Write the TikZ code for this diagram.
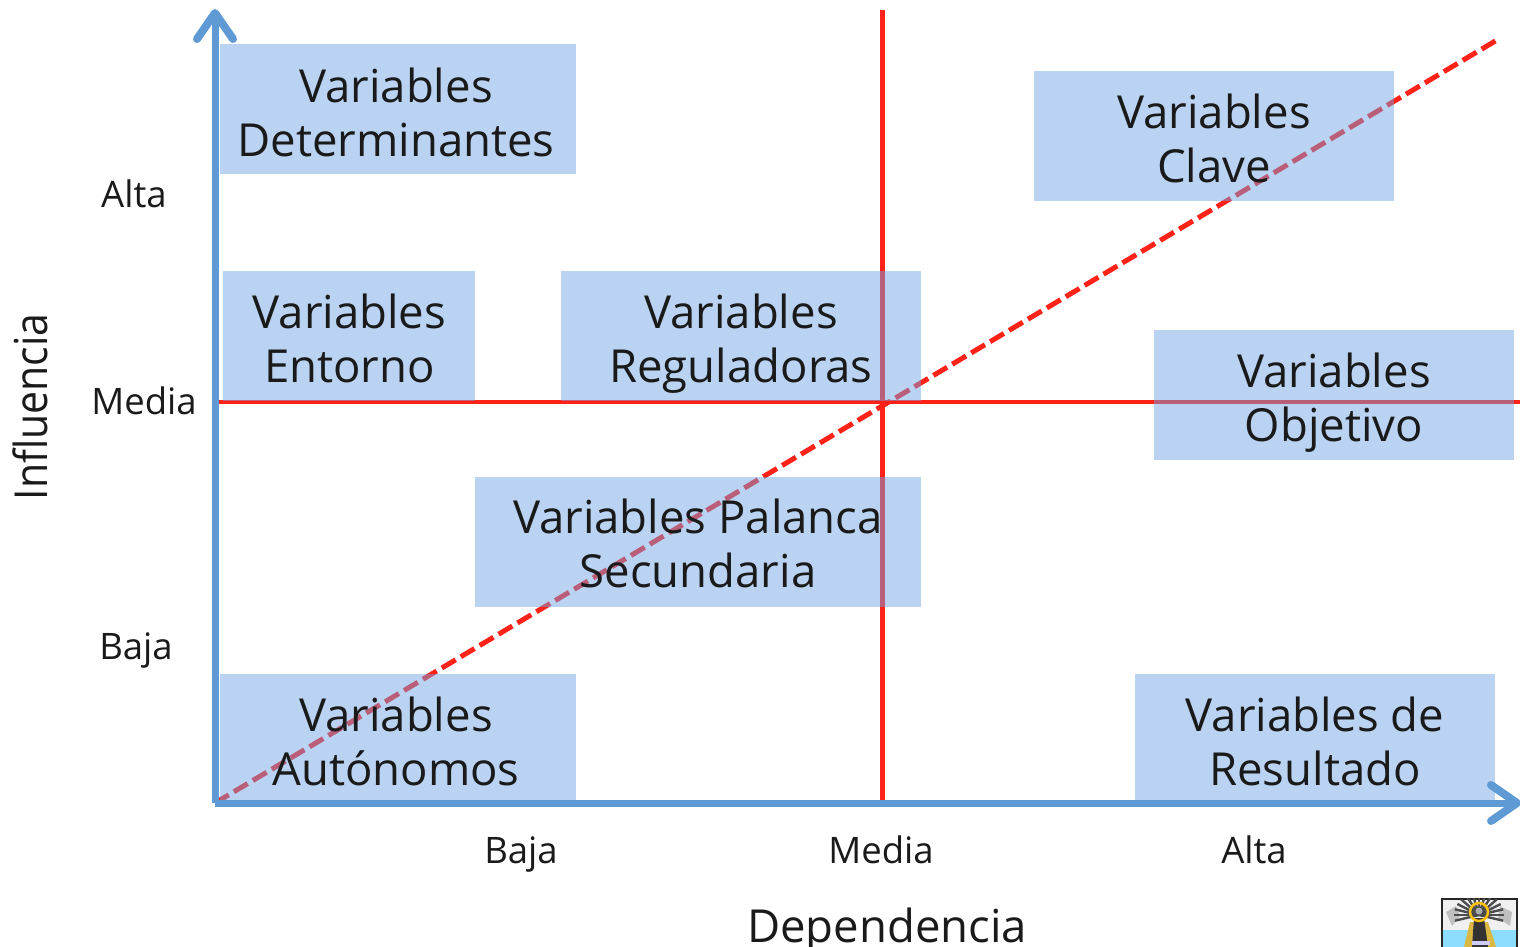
\documentclass[tikz,border=0pt]{standalone}
\usepackage{fontspec}
\setmainfont{Open Sans}
\usetikzlibrary{arrows.meta}
\definecolor{boxblue}{HTML}{6FA3E4}
\definecolor{axisblue}{HTML}{5F9AD4}
\definecolor{redline}{HTML}{FF2218}
\definecolor{txt}{HTML}{1A1A1A}
\tikzset{
 vbox/.style={fill=boxblue,fill opacity=.48,inner sep=0pt},
 vtext/.style={text=txt,align=center,inner sep=0pt,font=\fontsize{45.5}{54}\selectfont},
 tick/.style={text=txt,inner sep=0pt,font=\fontsize{36.5}{40}\selectfont},
 axtitle/.style={text=txt,inner sep=0pt,font=\fontsize{45.5}{50}\selectfont},
 axisline/.style={draw=axisblue,line width=7pt,-{Straight Barb[length=26pt,width=36pt,line width=8pt,round]}},
 redl/.style={draw=redline,line width=4.6pt},
 redd/.style={draw=redline,line width=5pt,dash pattern=on 16pt off 6pt},
}
% name, first line, second line, width, height, box centre x, box centre y, text centre x, text centre y
\newcommand{\vb}[9]{\node[vbox,minimum width=#4 pt,minimum height=#5 pt] (#1) at (#6,#7) {};
 \def\vbA{#1}\vbrest{#2}{#3}{#8}{#9}}
\newcommand{\vbrest}[4]{\node[vtext] (\vbA-t) at (#3,#4) {\strut #1\\\strut #2};}
\begin{document}
\begin{tikzpicture}[x=1pt,y=-1pt]
\useasboundingbox (0,0) rectangle (1520,947);
\coordinate (O) at (215,803);
\coordinate (Ytop) at (215,9);
\coordinate (Xend) at (1521,803);
\coordinate (Vtop) at (882.5,10);
\coordinate (Vbot) at (882.5,803);
\coordinate (Hl) at (217,402);
\coordinate (Hr) at (1520,402);
\coordinate (Dend) at (1497,40);
\draw[redl] (Vtop) -- (Vbot);
\draw[redl] (Hl) -- (Hr);
\draw[redd] (O) -- (Dend);
\vb{det}{Variables}{Determinantes}{356}{130}{398}{109}{396}{119}
\vb{cla}{Variables}{Clave}{360}{130}{1214}{136}{1214}{145}
\vb{ent}{Variables}{Entorno}{252}{130}{349}{336}{349.5}{345}
\vb{reg}{Variables}{Reguladoras}{360}{130}{741}{336}{741}{345}
\vb{obj}{Variables}{Objetivo}{360}{130}{1334}{395}{1334}{404}
\vb{pal}{Variables Palanca}{Secundaria}{446}{130}{698}{541.5}{698}{550}
\vb{aut}{Variables}{Autónomos}{356}{130}{398}{738.5}{396}{748}
\vb{res}{Variables de}{Resultado}{360}{130}{1315}{738.5}{1315}{748}
\draw[axisline] (O) -- (Ytop);
\draw[axisline] (O) -- (Xend);
\node[tick] (a1) at (134,199) {\strut Alta};
\node[tick] (a2) at (144,406) {\strut Media};
\node[tick] (a3) at (136,651) {\strut Baja};
\node[tick] (b1) at (521,855) {\strut Baja};
\node[tick] (b2) at (881,855) {\strut Media};
\node[tick] (b3) at (1254,855) {\strut Alta};
\node[axtitle,rotate=90] (yt) at (37,407) {\scalebox{.9}[1]{\strut Influencia}};
\node[axtitle] (xt) at (887,932) {\strut Dependencia};
% logo
\begin{scope}
\clip (1441,898) rectangle (1518,947);
\fill[black!85] (1441,898) rectangle (1518,947);
\fill[gray!12] (1443,900) rectangle (1516,947);
\fill[gray!50] (1446,912) -- (1456,906) -- (1460,916) -- (1452,926) -- cycle;
\fill[gray!50] (1500,906) -- (1512,912) -- (1510,926) -- (1498,918) -- cycle;
\fill[blue!30!cyan!45] (1443,930) rectangle (1516,947);
\foreach \a in {-105,-90,...,105}{
 \draw[black!70,line width=2.4pt] (1479,915) -- ({1479+25*sin(\a)},{915-22*cos(\a)});
}
\fill[yellow!40!brown] (1464,947) -- (1470,922) -- (1488,922) -- (1496,947) -- cycle;
\fill[black!80] (1472,947) -- (1474,918) -- (1484,918) -- (1488,947) -- cycle;
\draw[yellow!55!orange,line width=2.5pt] (1479,912) circle[radius=9pt];
\fill[gray!65] (1479,911) circle[radius=3.5pt];
\fill[white!80!blue] (1472,941) rectangle (1490,945);
\end{scope}
\end{tikzpicture}
\end{document}
